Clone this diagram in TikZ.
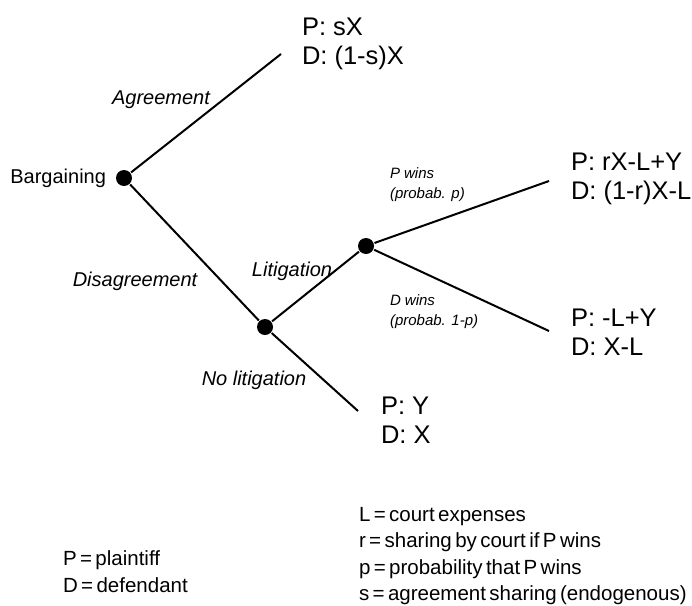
\documentclass[tikz,border=0pt]{standalone}
\usepackage{fontspec}
\setmainfont{Liberation Sans}
\newfontfamily\keyfont{Liberation Sans}[WordSpace=0.6]
\usetikzlibrary{positioning}

\begin{document}
\begin{tikzpicture}[x=1pt,y=-1pt,line width=2pt,
    dot/.style={circle,fill,inner sep=0pt,minimum size=16pt},
    payoff/.style={anchor=west,align=left,inner sep=0pt,font=\fontsize{25.5}{29}\selectfont},
    branch/.style={inner sep=0pt,font=\fontsize{20}{24}\selectfont\itshape},
    chance/.style={anchor=west,align=left,inner sep=0pt,font=\fontsize{15}{20}\selectfont\itshape},
    legend/.style={anchor=north west,align=left,inner sep=0pt,font=\keyfont\fontsize{20.5}{26.5}\selectfont}]
    \useasboundingbox (0,0) rectangle (692,605);

    % decision and chance points
    \node[dot] (barg) at (124,178) {};
    \node[dot] (dis) at (265,327) {};
    \node[dot] (lit) at (366,246) {};
    \node[left=8pt of barg,inner sep=0pt,font=\fontsize{20}{24}\selectfont] (bargtxt) {Bargaining};

    % end points of the branches
    \coordinate (agr) at (281,54);
    \coordinate (pwin) at (549,181);
    \coordinate (dwin) at (549,331);
    \coordinate (nolit) at (358,411);

    \draw (barg) -- (agr);
    \draw (barg) -- (dis);
    \draw (dis) -- (lit);
    \draw (lit) -- (pwin);
    \draw (lit) -- (dwin);
    \draw (dis) -- (nolit);

    % branch labels
    \node[branch] (agrlab) at (161,100) {Agreement};
    \node[branch] (dislab) at (135,281) {Disagreement};
    \node[branch] (litlab) at (292,271) {Litigation};
    \node[branch] (nollab) at (254,380) {No litigation};
    \node[chance] (pwlab) at (389,185) {P wins\\(probab. p)};
    \node[chance] (dwlab) at (389,312) {D wins\\(probab. 1-p)};

    % payoffs
    \node[payoff] (agrpay) at (301,44) {P: sX\\D: (1-s)X};
    \node[payoff] (pwpay) at (570,179) {P: rX-L+Y\\D: (1-r)X-L};
    \node[payoff] (dwpay) at (570,332) {P: -L+Y\\D: X-L};
    \node[payoff] (nolpay) at (380,420) {P: Y\\D: X};

    % key
    \node[legend] (keyleft) at (62,550) {P = plaintiff\\D = defendant};
    \node[legend] (keyright) at (358,506) {L = court expenses\\r = sharing by court if P wins\\p = probability that P wins\\s = agreement sharing (endogenous)};
\end{tikzpicture}
\end{document}
